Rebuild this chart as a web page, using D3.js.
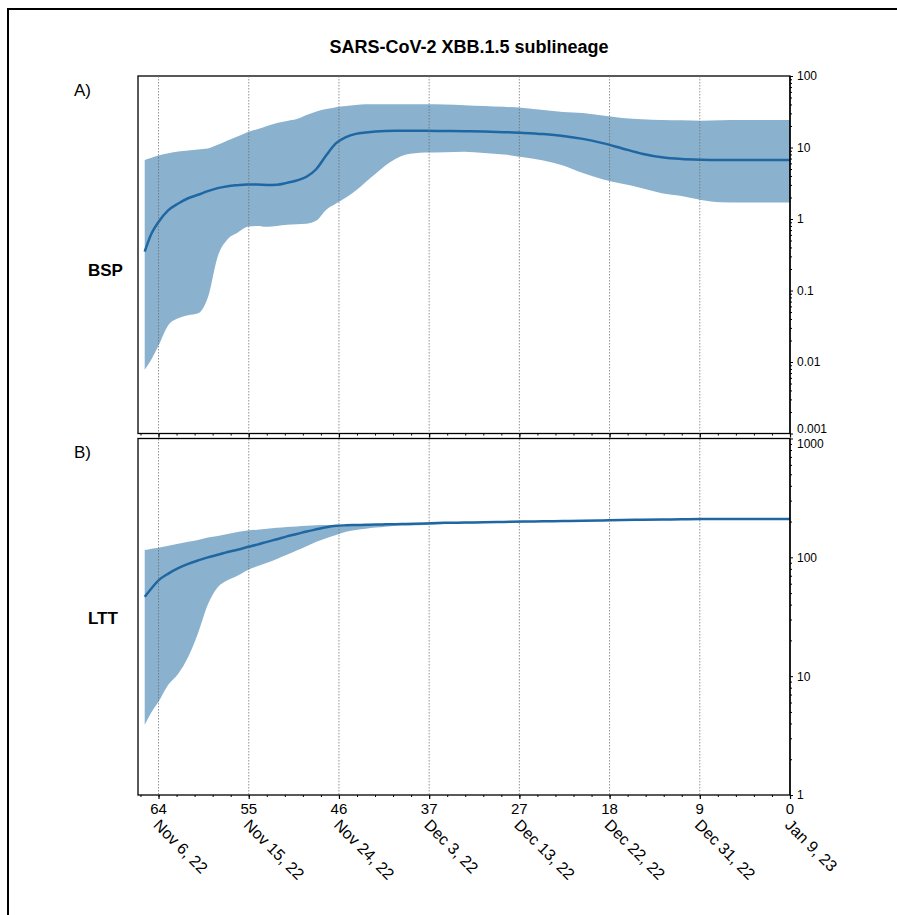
<!DOCTYPE html>
<html>
<head>
<meta charset="utf-8">
<script src="https://cdn.jsdelivr.net/npm/d3@7"></script>
<style>
  body { margin: 0; background: #fff; }
  svg { display: block; font-family: "Liberation Sans", Arial, sans-serif; }
</style>
</head>
<body>
<svg id="chart" width="897" height="915"></svg>
<script>
// ---- data (days before Jan 9, 2023) ----
const days = [65.4, 64.7, 64, 63, 62, 61, 60, 59, 58, 57, 56, 55, 54, 53, 52, 51, 50, 49, 48, 47, 46, 45, 44, 43, 42, 41, 40, 39, 38, 37, 35, 33, 31, 29, 27, 25, 23, 21, 19, 17, 15, 13, 11, 9, 7, 5, 3, 1, 0];

const bspMedian = [0.35, 0.63, 0.91, 1.33, 1.65, 1.95, 2.18, 2.45, 2.7, 2.88, 2.97, 3.03, 3.03, 3.0, 3.02, 3.2, 3.45, 3.9, 5.0, 7.8, 11.5, 14.0, 15.5, 16.2, 16.7, 17.0, 17.1, 17.1, 17.1, 17.1, 17.0, 16.9, 16.7, 16.4, 16.0, 15.4, 14.5, 13.2, 11.5, 9.7, 8.2, 7.3, 6.9, 6.75, 6.7, 6.7, 6.7, 6.7, 6.7];
const bspUpper = [6.7, 7.2, 7.7, 8.3, 8.8, 9.1, 9.4, 9.7, 10.9, 12.5, 14.2, 16.4, 18.0, 20.0, 22.0, 23.5, 25.0, 28.5, 32.0, 34.5, 36.7, 38.0, 39.3, 40.2, 40.3, 40.3, 40.3, 40.3, 40.3, 40.2, 39.8, 39.0, 38.0, 37.0, 35.8, 33.5, 31.3, 30.3, 28.0, 25.8, 24.8, 24.2, 24.0, 23.7, 24.0, 24.2, 24.2, 24.2, 24.2];
const bspLower = [0.0078, 0.011, 0.017, 0.033, 0.041, 0.045, 0.048, 0.08, 0.3, 0.52, 0.64, 0.78, 0.8, 0.78, 0.8, 0.83, 0.845, 0.86, 0.95, 1.35, 1.65, 2.0, 2.5, 3.3, 4.3, 5.6, 6.9, 7.9, 8.3, 8.5, 8.6, 8.7, 8.4, 8.0, 7.3, 6.6, 5.6, 4.4, 3.6, 3.1, 2.7, 2.3, 2.1, 1.85, 1.72, 1.7, 1.7, 1.7, 1.7];

const lttMedian = [46.6, 55, 64, 73, 81, 88, 94, 100, 105, 111, 116, 122, 128, 135, 142, 150, 157, 165, 172, 179, 184, 186, 187, 188, 189, 189.5, 190, 191, 192, 193, 195, 196, 197, 198.5, 200, 201, 202, 203, 204.5, 206, 207, 208, 209, 210, 210, 210, 210, 210, 210];
const lttUpper = [115, 118, 120.6, 125, 130, 135, 140, 147, 151, 157, 163, 168, 171, 174, 177, 180, 182, 184, 186, 187, 187.5, 188, 189, 189.5, 190, 190.5, 191, 192, 193, 194, 196, 197, 198, 199.5, 201, 202, 203, 204, 205.5, 207, 208, 209, 210, 211, 211, 211, 211, 211, 211];
const lttLower = [3.9, 5.0, 6.1, 8.5, 10.5, 14.5, 23, 40, 56, 64, 70, 78, 84, 90, 97, 105, 114, 124, 135, 145, 154, 164, 170, 174, 178, 181, 184, 185, 186, 187.5, 191, 193, 194.5, 196, 197.5, 199, 200, 201, 202.5, 204, 205, 206, 207, 208, 208, 208, 208, 208, 208];

const tickDays = [64, 54.857, 45.714, 36.571, 27.429, 18.286, 9.143, 0];
const tickLabels = ["64", "55", "46", "37", "27", "18", "9", "0"];
const dateLabels = ["Nov 6, 22", "Nov 15, 22", "Nov 24, 22", "Dec 3, 22", "Dec 13, 22", "Dec 22, 22", "Dec 31, 22", "Jan 9, 23"];

const bspTicks = [100, 10, 1, 0.1, 0.01, 0.001];
const bspTickLabels = ["100", "10", "1", "0.1", "0.01", "0.001"];
const lttTicks = [1000, 100, 10, 1];
const lttTickLabels = ["1000", "100", "10", "1"];

const title = "SARS-CoV-2 XBB.1.5 sublineage";

// ---- layout ----
const svg = d3.select("#chart");
const L = 138, R = 790;
const topA = 76, botA = 433.5, topB = 438.5, botB = 795;
const fillColor = "#8ab2ce", lineColor = "#1f67a3";

const x = d3.scaleLinear().domain([66.08, 0]).range([L, R]);
const yA = d3.scaleLog().domain([0.001, 100]).range([botA, topA]);
const yB = d3.scaleLog().domain([1, 1000]).range([botB, topB]);

// outer frame
svg.append("rect").attr("x", 8).attr("y", 9).attr("width", 1000).attr("height", 1000)
  .attr("fill", "none").attr("stroke", "#000").attr("stroke-width", 2);

// title
svg.append("text").attr("x", 469).attr("y", 53).attr("text-anchor", "middle")
  .attr("font-size", 18).attr("font-weight", "bold").text(title);

function panel(y, med, lo, hi, top, bot) {
  const g = svg.append("g");
  const pts = days.map((d, i) => ({ d, m: med[i], lo: lo[i], hi: hi[i] }));
  g.append("path").datum(pts)
    .attr("fill", fillColor)
    .attr("d", d3.area().curve(d3.curveMonotoneX).x(p => x(p.d)).y0(p => y(p.lo)).y1(p => y(p.hi)));
  g.append("path").datum(pts)
    .attr("fill", "none").attr("stroke", lineColor).attr("stroke-width", 2.5)
    .attr("d", d3.line().curve(d3.curveMonotoneX).x(p => x(p.d)).y(p => y(p.m)));
  g.append("rect").attr("x", L).attr("y", top).attr("width", R - L).attr("height", bot - top)
    .attr("fill", "none").attr("stroke", "#000").attr("stroke-width", 1.3);
  return g;
}

panel(yA, bspMedian, bspLower, bspUpper, topA, botA);
panel(yB, lttMedian, lttLower, lttUpper, topB, botB);

// vertical dotted grid lines
svg.append("g").selectAll("line").data(tickDays.slice(0, 7)).join("line")
  .attr("x1", d => x(d)).attr("x2", d => x(d))
  .attr("y1", topA).attr("y2", botB)
  .attr("stroke", "#666").attr("stroke-width", 0.7).attr("stroke-dasharray", "1.5,1.5");

// x ticks (major + minor)
const minorDays = d3.range(0, 37).map(i => i * 64 / 35).filter(d => d <= 66);
function xAxisTicks(yPos) {
  const g = svg.append("g").attr("transform", `translate(0,${yPos})`);
  g.call(d3.axisBottom(x).tickValues(tickDays).tickSize(4).tickFormat(""));
  g.select(".domain").remove();
  g.selectAll(".tick line").attr("stroke", "#000").attr("stroke-width", 1.2);
  const gm = svg.append("g").attr("transform", `translate(0,${yPos})`);
  gm.call(d3.axisBottom(x).tickValues(minorDays).tickSize(2).tickFormat(""));
  gm.select(".domain").remove();
  gm.selectAll(".tick line").attr("stroke", "#000").attr("stroke-width", 1);
}
xAxisTicks(botA);
xAxisTicks(botB);

// x tick labels
svg.append("g").selectAll("text").data(tickDays).join("text")
  .attr("x", d => x(d)).attr("y", 814).attr("text-anchor", "middle")
  .attr("font-size", 15).text((d, i) => tickLabels[i]);

// rotated date labels
svg.append("g").selectAll("text").data(tickDays).join("text")
  .attr("transform", d => `translate(${x(d) - 6},${826}) rotate(45)`)
  .attr("font-size", 16).text((d, i) => dateLabels[i]);

// right log axes
function rightAxis(y, ticks, labels, shiftFirst, shiftLast) {
  const g = svg.append("g").attr("transform", `translate(${R},0)`);
  g.call(d3.axisRight(y).tickValues(ticks).tickSize(3).tickPadding(4)
    .tickFormat((d, i) => labels[i]));
  g.select(".domain").attr("stroke", "#000").attr("stroke-width", 1.3).attr("d", `M0,${y.range()[0]}V${y.range()[1]}`);
  g.selectAll(".tick text").attr("font-size", 12).attr("font-family", "Liberation Sans, Arial, sans-serif").attr("fill", "#000");
  g.selectAll(".tick line").attr("stroke", "#000");
  g.selectAll(".tick text").filter((d, i) => i === 0).attr("dy", shiftFirst);
  g.selectAll(".tick text").filter((d, i, n) => i === n.length - 1).attr("dy", shiftLast);
  const minors = [];
  const [lo, hi] = y.domain();
  for (let e = Math.log10(lo); e < Math.log10(hi) - 1e-9; e++) {
    for (let k = 2; k <= 9; k++) minors.push(k * Math.pow(10, e));
  }
  const gm = svg.append("g").attr("transform", `translate(${R},0)`);
  gm.call(d3.axisRight(y).tickValues(minors).tickSize(2).tickFormat(""));
  gm.select(".domain").remove();
  gm.selectAll(".tick line").attr("stroke", "#000").attr("stroke-width", 1);
}
rightAxis(yA, bspTicks, bspTickLabels, "0.32em", "-0.05em");
rightAxis(yB, lttTicks, lttTickLabels, "0.75em", "0.32em");

// panel labels
svg.append("text").attr("x", 74).attr("y", 96).attr("font-size", 17).text("A)");
svg.append("text").attr("x", 74).attr("y", 458).attr("font-size", 17).text("B)");
svg.append("text").attr("x", 88).attr("y", 276).attr("font-size", 17).attr("font-weight", "bold").text("BSP");
svg.append("text").attr("x", 88).attr("y", 624).attr("font-size", 17).attr("font-weight", "bold").text("LTT");
</script>
</body>
</html>
